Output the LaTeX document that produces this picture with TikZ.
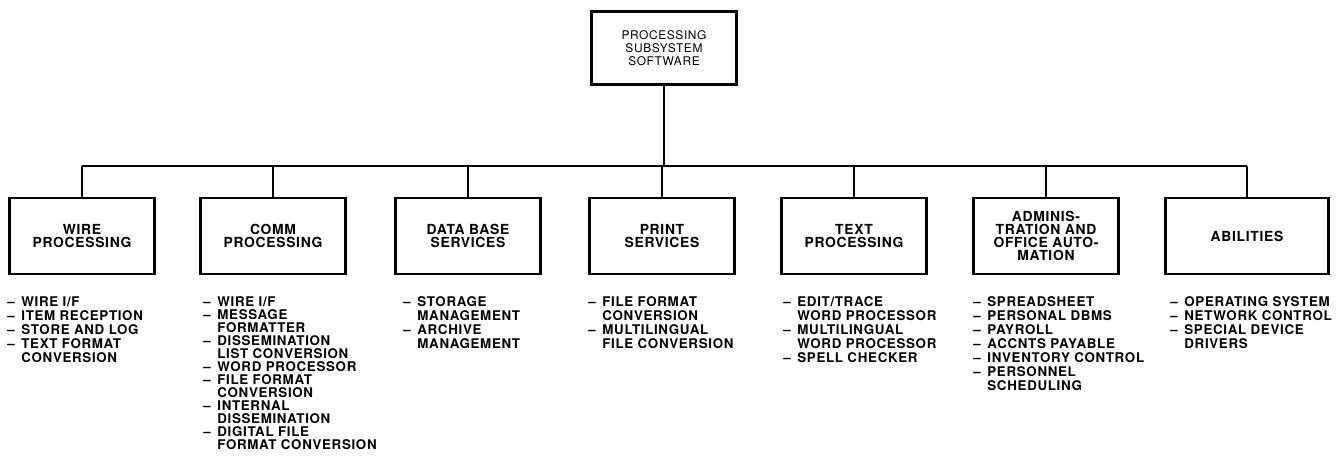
\documentclass[tikz,border=0pt]{standalone}
\usepackage{fontspec}
\newfontfamily\chartfont[LetterSpace=5]{TeX Gyre Heros}
\usetikzlibrary{positioning}
\newcommand{\itemdash}{\makebox[8pt][l]{\textendash}}
\newcommand{\itemgap}{\hspace*{8pt}}
\tikzset{
	topbox/.style={draw, line width=1.5pt, minimum width=2.9cm, minimum height=1.46cm, align=center, font=\chartfont\fontsize{6.8}{7.4}\selectfont},
	unitbox/.style={draw, line width=1.5pt, minimum width=2.9cm, minimum height=1.52cm, align=center, font=\chartfont\bfseries\fontsize{7.9}{7.5}\selectfont},
	itemlist/.style={anchor=north west, inner sep=0pt, align=left, font=\chartfont\bfseries\fontsize{7.6}{8}\selectfont},
	link/.style={line width=0.8pt}
}

\begin{document}
\begin{tikzpicture}[x=0.02cm, y=-0.02cm]
			%%%%% START %%%%%
			\useasboundingbox (0, 0) rectangle (1341, 468);
			
			\node[topbox] (pss) at (664, 48) {PROCESSING\\SUBSYSTEM\\SOFTWARE};
			\coordinate (bus) at (664, 166);
			
			\node[unitbox] (wire) at (82, 236) {WIRE\\PROCESSING};
			\node[unitbox] (comm) at (273, 236) {COMM\\PROCESSING};
			\node[unitbox] (dbase) at (468, 236) {DATA BASE\\SERVICES};
			\node[unitbox] (print) at (662, 236) {PRINT\\SERVICES};
			\node[unitbox] (text) at (854, 236) {TEXT\\PROCESSING};
			\node[unitbox] (admin) at (1046, 236) {ADMINIS-\\TRATION AND\\OFFICE AUTO-\\MATION};
			\node[unitbox, minimum width=3.26cm] (abil) at (1247, 236) {ABILITIES};
			
			\draw[link] (pss.south) -- (bus);
			\draw[link] (bus -| wire.north) -- (bus -| abil.north);
			\foreach \blk in {wire, comm, dbase, print, text, admin, abil}
				\draw[link] (bus -| \blk.north) -- (\blk.north);
			
			\node[itemlist] (wirelist) at (7, 296) {\itemdash WIRE I/F\\ \itemdash ITEM RECEPTION\\ \itemdash STORE AND LOG\\ \itemdash TEXT FORMAT\\ \itemgap CONVERSION};
			\node[itemlist, font=\chartfont\bfseries\fontsize{7.6}{7.4}\selectfont] (commlist) at (203, 296) {\itemdash WIRE I/F\\ \itemdash MESSAGE\\ \itemgap FORMATTER\\ \itemdash DISSEMINATION\\ \itemgap LIST CONVERSION\\ \itemdash WORD PROCESSOR\\ \itemdash FILE FORMAT\\ \itemgap CONVERSION\\ \itemdash INTERNAL\\ \itemgap DISSEMINATION\\ \itemdash DIGITAL FILE\\ \itemgap FORMAT CONVERSION};
			\node[itemlist] (dbaselist) at (403, 296) {\itemdash STORAGE\\ \itemgap MANAGEMENT\\ \itemdash ARCHIVE\\ \itemgap MANAGEMENT};
			\node[itemlist] (printlist) at (588, 296) {\itemdash FILE FORMAT\\ \itemgap CONVERSION\\ \itemdash MULTILINGUAL\\ \itemgap FILE CONVERSION};
			\node[itemlist] (textlist) at (783, 296) {\itemdash EDIT/TRACE\\ \itemgap WORD PROCESSOR\\ \itemdash MULTILINGUAL\\ \itemgap WORD PROCESSOR\\ \itemdash SPELL CHECKER};
			\node[itemlist] (adminlist) at (973, 296) {\itemdash SPREADSHEET\\ \itemdash PERSONAL DBMS\\ \itemdash PAYROLL\\ \itemdash ACCNTS PAYABLE\\ \itemdash INVENTORY CONTROL\\ \itemdash PERSONNEL\\ \itemgap SCHEDULING};
			\node[itemlist] (abillist) at (1170, 296) {\itemdash OPERATING SYSTEM\\ \itemdash NETWORK CONTROL\\ \itemdash SPECIAL DEVICE\\ \itemgap DRIVERS};
			
			%%%%% END %%%%%
		\end{tikzpicture}
\end{document}
